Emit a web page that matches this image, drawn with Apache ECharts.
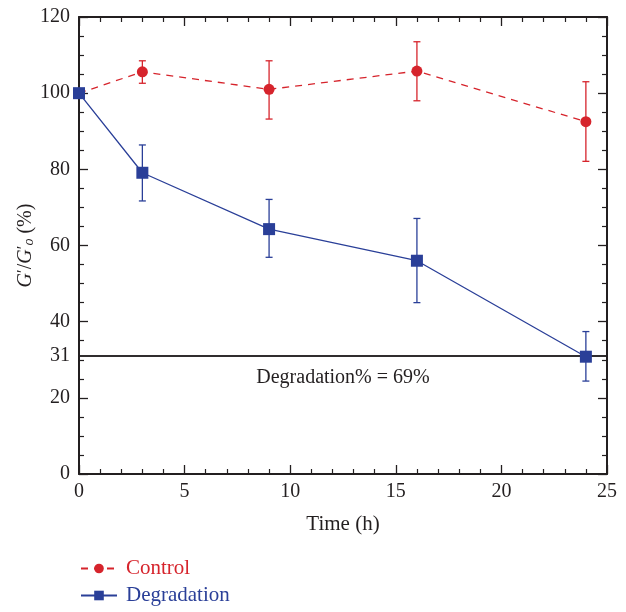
<!DOCTYPE html>
<html><head><meta charset="utf-8">
<script src="https://cdn.jsdelivr.net/npm/echarts@6/dist/echarts.min.js"></script>
<style>html,body{margin:0;padding:0;background:#fff}#c{width:626px;height:612px}</style>
</head><body><div id="c"></div>
<script>
var times = [0, 3, 9, 16, 24];
var controlMean = [100, 105.6, 101.0, 105.8, 92.5];
var controlLow  = [100, 102.6, 93.2, 98.0, 82.1];
var controlHigh = [100, 108.5, 108.5, 113.5, 103.0];
var degMean = [100, 79.1, 64.3, 56.0, 30.8];
var degLow  = [100, 71.7, 56.9, 45.0, 24.4];
var degHigh = [100, 86.4, 72.1, 67.1, 37.4];
var yTicks = [0, 20, 40, 60, 80, 100, 120];
var xTicks = [0, 5, 10, 15, 20, 25];
var thresholdValue = 31;
var thresholdText = 'Degradation% = 69%';

var RED = '#d6242c', BLUE = '#2a3f98', INK = '#231f20';
var FONT = 'Liberation Serif';
var FS = 20;

function pairs(xs, ys){ return xs.map(function(x,i){return [x, ys[i]];}); }
function bars(xs, lo, hi){ return xs.map(function(x,i){return [x, lo[i], hi[i]];}).filter(function(d){return d[1]!==d[2];}); }
function errRender(color){
  return function(params, api){
    var x = api.value(0), lo = api.value(1), hi = api.value(2);
    var p1 = api.coord([x, hi]), p2 = api.coord([x, lo]);
    var w = 3.5;
    var st = {stroke: color, lineWidth: 1.3};
    return {type:'group', children:[
      {type:'line', shape:{x1:p1[0],y1:p1[1],x2:p2[0],y2:p2[1]}, style:st},
      {type:'line', shape:{x1:p1[0]-w,y1:p1[1],x2:p1[0]+w,y2:p1[1]}, style:st},
      {type:'line', shape:{x1:p2[0]-w,y1:p2[1],x2:p2[0]+w,y2:p2[1]}, style:st}
    ]};
  };
}
var axisCommon = {
  type:'value', min:0, splitLine:{show:false},
  axisLine:{show:true, onZero:false, lineStyle:{color:INK, width:2}},
  axisTick:{show:true, inside:true, length:9, lineStyle:{color:INK, width:1.3}},
  minorTick:{show:true, length:5, lineStyle:{color:INK, width:1.2}},
  axisLabel:{color:INK, fontFamily:FONT, fontSize:FS}
};
function merge(a,b){ return Object.assign({}, JSON.parse(JSON.stringify(a)), b); }
function legendFor(name, color, top){
  return {orient:'horizontal', left:75, top:top, itemWidth:36, itemHeight:12,
    data:[{name:name, textStyle:{color:color}}],
    textStyle:{fontFamily:FONT, fontSize:21, padding:[0,0,0,4]}};
}

var chart = echarts.init(document.getElementById('c'), null, {renderer:'canvas'});
chart.setOption({
  animation:false,
  backgroundColor:'#fff',
  grid:{left:79, right:19, top:17, bottom:138},
  legend:[legendFor('Control', RED, 553), legendFor('Degradation', BLUE, 580)],
  xAxis:[
    merge(axisCommon, {position:'bottom', max:xTicks[xTicks.length-1], interval:5,
      minorTick:{show:true, splitNumber:5, length:5, lineStyle:{color:INK, width:1.2}},
      axisLabel:{color:INK, fontFamily:FONT, fontSize:FS, margin:8},
      name:'Time (h)', nameLocation:'middle', nameGap:40, nameMoveOverlap:false,
      nameTextStyle:{color:INK, fontFamily:FONT, fontSize:21}}),
    merge(axisCommon, {position:'top', max:25, interval:5,
      minorTick:{show:true, splitNumber:5, length:5, lineStyle:{color:INK, width:1.2}},
      axisLabel:{show:false}})
  ],
  yAxis:[
    merge(axisCommon, {position:'left', max:yTicks[yTicks.length-1], interval:20,
      minorTick:{show:true, splitNumber:4, length:5, lineStyle:{color:INK, width:1.2}},
      axisLabel:{color:INK, fontFamily:FONT, fontSize:FS, margin:9},
      name:'{i|G}{p|′}/{i|G}{p|′}{s|o} (%)', nameLocation:'middle', nameGap:43, nameMoveOverlap:false,
      nameTextStyle:{color:INK, fontFamily:FONT, fontSize:FS,
        rich:{i:{fontStyle:'italic', fontFamily:FONT, fontSize:FS, color:INK},
              p:{fontFamily:FONT, fontSize:17, color:INK, verticalAlign:'top'},
              s:{fontStyle:'italic', fontFamily:FONT, fontSize:14, color:INK, verticalAlign:'bottom', padding:[7,0,0,0]}}}}),
    merge(axisCommon, {position:'right', max:120, interval:20,
      minorTick:{show:true, splitNumber:4, length:5, lineStyle:{color:INK, width:1.2}},
      axisLabel:{show:false}})
  ],
  series:[
    {type:'custom', name:'ctrlErr', z:3, renderItem:errRender(RED), data:bars(times, controlLow, controlHigh), encode:{x:0, y:[1,2]}, silent:true},
    {type:'custom', name:'degErr', z:4, renderItem:errRender(BLUE), data:bars(times, degLow, degHigh), encode:{x:0, y:[1,2]}, silent:true},
    {type:'line', name:'Control', z:5, data:pairs(times, controlMean), symbol:'circle', symbolSize:11,
      itemStyle:{color:RED}, lineStyle:{color:RED, width:1.3, type:[7,6]},
      markLine:{silent:true, symbol:'none', animation:false,
        lineStyle:{color:INK, width:1.5, type:'solid'},
        data:[
          {yAxis:thresholdValue, label:{show:true, position:'start', formatter:String(thresholdValue), color:INK, fontFamily:FONT, fontSize:FS, distance:9}},
          {yAxis:thresholdValue, label:{show:true, position:'insideMiddleBottom', formatter:thresholdText, color:INK, fontFamily:FONT, fontSize:FS, distance:12}}
        ]}},
    {type:'line', name:'Degradation', z:6, data:pairs(times, degMean), symbol:'rect', symbolSize:12,
      itemStyle:{color:BLUE}, lineStyle:{color:BLUE, width:1.3}}
  ]
});
</script></body></html>
